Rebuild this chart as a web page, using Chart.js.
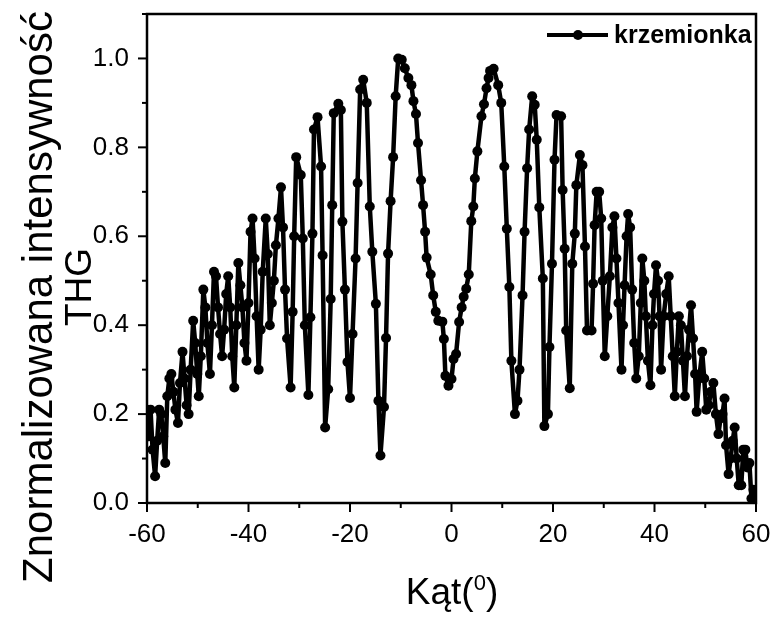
<!DOCTYPE html>
<html>
<head>
<meta charset="utf-8">
<script src="https://cdn.jsdelivr.net/npm/chart.js@4.4.1/dist/chart.umd.min.js"></script>
<style>
  body { margin: 0; background: #fff; }
  canvas { display: block; }
</style>
</head>
<body>
<canvas id="wykres" width="774" height="619"></canvas>
<script>
// kat (stopnie) i znormalizowana intensywnosc THG
const katy = [
  -60.0, -59.6, -59.3, -58.9, -58.4, -58.0, -57.6, -57.2, -56.8, -56.4,
  -56.0, -55.6, -55.2, -54.8, -54.4, -53.9, -53.5, -53.0, -52.6, -52.2,
  -51.8, -51.4, -50.9, -50.5, -50.1, -49.8, -49.4, -48.9, -48.5, -48.1,
  -47.6, -47.2, -46.8, -46.4, -46.0, -45.6, -45.2, -44.8, -44.4, -44.0,
  -43.6, -43.2, -42.8, -42.4, -42.0, -41.6, -41.2, -40.8, -40.4, -40.0,
  -39.6, -39.2, -38.8, -38.4, -38.0, -37.6, -37.2, -36.6, -36.2, -35.8,
  -35.4, -35.0, -34.6, -34.1, -33.6, -33.2, -32.8, -32.4, -31.7, -31.3,
  -31.0, -30.6, -29.7, -29.3, -28.9, -28.2, -27.8, -27.4, -27.1, -26.4,
  -25.7, -25.4, -24.9, -24.3, -23.8, -23.5, -23.2, -22.3, -21.8, -21.5,
  -21.0, -20.5, -20.0, -19.5, -18.9, -18.5, -18.0, -17.4, -16.7, -16.1,
  -15.6, -14.9, -14.4, -14.0, -13.3, -12.9, -12.5, -12.0, -11.5, -11.0,
  -10.5, -9.8, -9.2, -8.5, -7.9, -7.5, -7.0, -6.6, -6.0, -5.6,
  -5.2, -4.9, -4.1, -3.6, -3.1, -2.6, -1.8, -1.5, -1.2, -0.6,
  0.0, 0.4, 0.9, 1.5, 2.0, 2.4, 2.9, 3.4, 3.9, 4.3,
  4.6, 5.1, 5.9, 6.4, 6.9, 7.3, 7.6, 8.3, 9.2, 9.8,
  10.4, 10.9, 11.4, 11.8, 12.5, 13.0, 13.4, 14.0, 14.4, 14.9,
  15.3, 15.9, 16.4, 16.8, 17.3, 18.0, 18.3, 19.0, 19.3, 19.8,
  20.3, 20.7, 21.6, 21.9, 22.3, 22.6, 23.3, 23.8, 24.3, 24.6,
  25.3, 25.8, 26.3, 26.7, 27.6, 27.9, 28.2, 28.6, 29.1, 29.5,
  29.8, 30.2, 30.7, 31.2, 31.7, 32.1, 32.5, 32.9, 33.5, 33.8,
  34.1, 34.5, 34.8, 35.2, 35.6, 36.0, 36.4, 36.9, 37.3, 37.6,
  38.0, 38.3, 38.7, 39.2, 39.6, 39.9, 40.3, 40.7, 41.0, 41.3,
  41.8, 42.3, 42.8, 43.2, 43.6, 44.0, 44.4, 44.8, 45.2, 45.6,
  46.0, 46.4, 46.8, 47.2, 47.6, 48.0, 48.3, 48.8, 49.4, 49.8,
  50.2, 50.7, 51.1, 51.6, 52.1, 52.6, 53.0, 53.4, 53.8, 54.1,
  54.6, 55.0, 55.4, 55.8, 56.2, 56.6, 57.1, 57.5, 57.9, 58.3,
  58.7, 59.1, 59.5, 60.0
];
const thg = [
  0.21, 0.15, 0.21, 0.12, 0.06, 0.14, 0.21, 0.20, 0.15, 0.09,
  0.24, 0.28, 0.29, 0.25, 0.21, 0.18, 0.27, 0.34, 0.28, 0.22,
  0.20, 0.30, 0.41, 0.36, 0.29, 0.24, 0.33, 0.48, 0.44, 0.36,
  0.29, 0.40, 0.52, 0.51, 0.44, 0.38, 0.33, 0.39, 0.47, 0.51,
  0.44, 0.33, 0.26, 0.40, 0.54, 0.49, 0.44, 0.36, 0.32, 0.45,
  0.61, 0.64, 0.55, 0.42, 0.30, 0.39, 0.52, 0.64, 0.56, 0.40,
  0.45, 0.50, 0.58, 0.64, 0.71, 0.62, 0.48, 0.37, 0.26, 0.43,
  0.60, 0.778, 0.738, 0.595, 0.40, 0.243, 0.418, 0.606, 0.84, 0.868,
  0.757, 0.557, 0.17, 0.256, 0.459, 0.67, 0.877, 0.898, 0.884, 0.633,
  0.48, 0.317, 0.236, 0.38, 0.55, 0.72, 0.93, 0.952, 0.90, 0.667,
  0.565, 0.448, 0.23, 0.107, 0.216, 0.371, 0.561, 0.679, 0.778, 0.915,
  1.0, 0.997, 0.978, 0.956, 0.94, 0.904, 0.875, 0.81, 0.726, 0.67,
  0.61, 0.552, 0.514, 0.467, 0.43, 0.41, 0.408, 0.369, 0.286, 0.264,
  0.279, 0.324, 0.335, 0.407, 0.44, 0.464, 0.482, 0.514, 0.634, 0.667,
  0.73, 0.791, 0.87, 0.897, 0.933, 0.956, 0.972, 0.977, 0.94, 0.90,
  0.757, 0.617, 0.486, 0.32, 0.20, 0.23, 0.30, 0.467, 0.61, 0.753,
  0.84, 0.915, 0.896, 0.817, 0.665, 0.505, 0.173, 0.20, 0.351, 0.538,
  0.772, 0.873, 0.87, 0.704, 0.572, 0.388, 0.258, 0.538, 0.606, 0.715,
  0.783, 0.76, 0.577, 0.388, 0.388, 0.493, 0.625, 0.70, 0.70, 0.64,
  0.50, 0.33, 0.42, 0.51, 0.62, 0.645, 0.55, 0.45, 0.30, 0.40,
  0.49, 0.60, 0.65, 0.62, 0.48, 0.36, 0.28, 0.33, 0.45, 0.55,
  0.50, 0.42, 0.32, 0.265, 0.40, 0.47, 0.535, 0.50, 0.42, 0.30,
  0.42, 0.47, 0.51, 0.42, 0.33, 0.24, 0.34, 0.42, 0.40, 0.32,
  0.24, 0.33, 0.39, 0.445, 0.37, 0.29, 0.205, 0.28, 0.34, 0.28,
  0.21, 0.22, 0.25, 0.27, 0.20, 0.155, 0.19, 0.20, 0.235, 0.13,
  0.065, 0.10, 0.14, 0.17, 0.10, 0.04, 0.04, 0.12, 0.12, 0.08,
  0.09, 0.01, 0.03, 0.0
];
const nazwaSerii = 'krzemionka';
const tytulX = 'Kąt(';
const tytulY = ['Znormalizowana intensywność', 'THG'];

const FONT = '"Liberation Sans", Arial, sans-serif';

// punkty do wykresu
const punkty = katy.map((k, i) => ({ x: k, y: thg[i] }));

// ramka, ticki, legenda i tytuly osi
const dodatki = {
    id: 'dodatki',
    afterDraw(chart) {
        const ctx = chart.ctx;
        const a = chart.chartArea;
        const sx = chart.scales.x;
        const sy = chart.scales.y;
        ctx.save();
        ctx.strokeStyle = '#000';
        ctx.lineWidth = 2.5;
        ctx.strokeRect(a.left, a.top, a.right - a.left, a.bottom - a.top);

        // ticki osi y
        ctx.lineWidth = 2;
        sy.ticks.forEach(t => {
            const py = sy.getPixelForValue(t.value);
            const dl = Math.round(t.value * 10) % 2 === 0 ? 9 : 5;
            ctx.beginPath();
            ctx.moveTo(a.left - dl, py);
            ctx.lineTo(a.left, py);
            ctx.stroke();
        });
        // ticki osi x
        sx.ticks.forEach(t => {
            const px = sx.getPixelForValue(t.value);
            const dl = Math.round(t.value) % 20 === 0 ? 9 : 5;
            ctx.beginPath();
            ctx.moveTo(px, a.bottom);
            ctx.lineTo(px, a.bottom + dl);
            ctx.stroke();
        });

        // legenda
        ctx.lineWidth = 4;
        ctx.beginPath();
        ctx.moveTo(547, 35);
        ctx.lineTo(608, 35);
        ctx.stroke();
        ctx.fillStyle = '#000';
        ctx.beginPath();
        ctx.arc(578, 35, 5, 0, Math.PI * 2);
        ctx.fill();
        ctx.font = 'bold 25px ' + FONT;
        ctx.textBaseline = 'middle';
        ctx.textAlign = 'left';
        ctx.fillText(nazwaSerii, 614, 36);

        // tytul osi x z indeksem gornym
        ctx.font = '37px ' + FONT;
        const w1 = ctx.measureText(tytulX).width;
        ctx.font = '22px ' + FONT;
        const w2 = ctx.measureText('0').width;
        ctx.font = '37px ' + FONT;
        const w3 = ctx.measureText(')').width;
        let xs = 452 - (w1 + w2 + w3) / 2;
        ctx.textBaseline = 'alphabetic';
        ctx.fillText(tytulX, xs, 604);
        xs += w1;
        ctx.font = '22px ' + FONT;
        ctx.fillText('0', xs, 590);
        xs += w2;
        ctx.font = '37px ' + FONT;
        ctx.fillText(')', xs, 604);

        // tytul osi y (dwie linie)
        ctx.textAlign = 'center';
        ctx.textBaseline = 'middle';
        ctx.translate(40, 297);
        ctx.rotate(-Math.PI / 2);
        ctx.font = '42px ' + FONT;
        ctx.fillText(tytulY[0], 0, 0);
        ctx.font = '37px ' + FONT;
        ctx.fillText(tytulY[1], 10, 41);
        ctx.restore();
    }
};

// skale bez dodatkowego marginesu od etykiet
const bezMarginesu = s => {
    s.paddingTop = 0;
    s.paddingBottom = 0;
    s.paddingLeft = 0;
    s.paddingRight = 0;
};

const config = {
    type: 'line',
    data: {
        datasets: [{
            label: nazwaSerii,
            data: punkty,
            borderColor: '#000',
            backgroundColor: '#000',
            borderWidth: 4.5,
            borderJoinStyle: 'round',
            borderCapStyle: 'round',
            pointRadius: 5,
            pointBorderWidth: 0,
            pointBackgroundColor: '#000',
            tension: 0
        }]
    },
    options: {
        responsive: false,
        animation: false,
        devicePixelRatio: 1,
        layout: { padding: { top: 14, right: 18, left: 0, bottom: 0 } },
        plugins: {
            legend: { display: false },
            tooltip: { enabled: false }
        },
        scales: {
            x: {
                type: 'linear',
                min: -60,
                max: 60,
                grid: { display: false, drawTicks: false },
                border: { display: false },
                ticks: {
                    stepSize: 10,
                    autoSkip: false,
                    maxRotation: 0,
                    padding: 16,
                    color: '#000',
                    font: { family: FONT, size: 26 },
                    callback: v => (Math.round(v) % 20 === 0 ? String(v) : '')
                },
                afterFit: s => { s.height = 116; bezMarginesu(s); }
            },
            y: {
                type: 'linear',
                min: 0,
                max: 1.1,
                grid: { display: false, drawTicks: false },
                border: { display: false },
                ticks: {
                    stepSize: 0.1,
                    autoSkip: false,
                    padding: 18,
                    color: '#000',
                    font: { family: FONT, size: 26 },
                    callback: v => (Math.round(v * 10) % 2 === 0 ? v.toFixed(1) : '')
                },
                afterFit: s => { s.width = 147; bezMarginesu(s); }
            }
        }
    },
    plugins: [dodatki]
};

const wykres = new Chart(document.getElementById('wykres'), config);
</script>
</body>
</html>
